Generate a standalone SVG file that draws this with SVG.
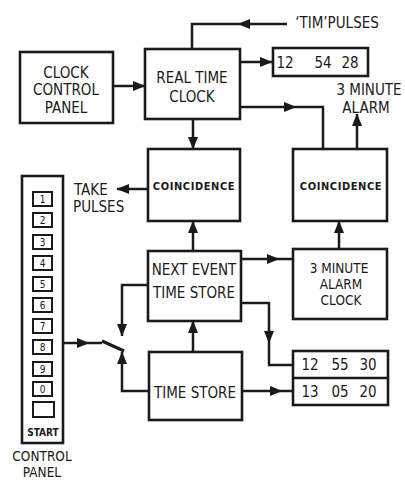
<svg xmlns="http://www.w3.org/2000/svg" width="405" height="481" viewBox="0 0 405 481">
<defs>
<marker id="ah" markerUnits="userSpaceOnUse" markerWidth="13" markerHeight="11" refX="12" refY="5.5" orient="auto" viewBox="0 0 13 11">
<path d="M0,0.5 L12.5,5.5 L0,10.5 z" fill="#1a1a1a"/>
</marker>
</defs>
<style>
.box{fill:#fff;stroke:#1a1a1a;stroke-width:2.6}
.btn{fill:#fff;stroke:#1a1a1a;stroke-width:2}
.ln{fill:none;stroke:#1a1a1a;stroke-width:2.5}
.t{font-family:"DejaVu Sans Condensed","DejaVu Sans",sans-serif;font-stretch:condensed;font-size:15px;fill:#1a1a1a;text-anchor:middle}
.m{font-size:13.5px}
.s{font-family:"DejaVu Sans Condensed","DejaVu Sans",sans-serif;font-stretch:condensed;font-size:11px;font-weight:bold;letter-spacing:0.6px;fill:#1a1a1a;text-anchor:middle}
.n{font-family:"DejaVu Sans Condensed","DejaVu Sans",sans-serif;font-stretch:condensed;font-size:10px;fill:#1a1a1a;text-anchor:middle}
</style>
<rect width="405" height="481" fill="#fff"/>
<g id="connectors">
<path class="ln" d="M113,86 L145,86" marker-end="url(#ah)"/>
<path class="ln" d="M287,24 L238,24" marker-end="url(#ah)"/>
<path class="ln" d="M238,24 L192,24 L192,49"/>
<path class="ln" d="M240,62 L272,62" marker-end="url(#ah)"/>
<path class="ln" d="M240,107 L296,107" marker-end="url(#ah)"/>
<path class="ln" d="M296,107 L323,107 L323,149"/>
<path class="ln" d="M357,149 L357,114" marker-end="url(#ah)"/>
<path class="ln" d="M193,119 L193,149" marker-end="url(#ah)"/>
<path class="ln" d="M148,189 L117,189" marker-end="url(#ah)"/>
<path class="ln" d="M193,251 L193,221" marker-end="url(#ah)"/>
<path class="ln" d="M240,259 L279,259" marker-end="url(#ah)"/>
<path class="ln" d="M279,259 L293,259"/>
<path class="ln" d="M339,249 L339,221" marker-end="url(#ah)"/>
<path class="ln" d="M148,285 L122,285 L122,336" marker-end="url(#ah)"/>
<path class="ln" d="M241,303 L269,303 L269,343" marker-end="url(#ah)"/>
<path class="ln" d="M269,343 L269,365 L293,365"/>
<path class="ln" d="M193,352 L193,321" marker-end="url(#ah)"/>
<path class="ln" d="M242,391 L282,391" marker-end="url(#ah)"/>
<path class="ln" d="M282,391 L293,391"/>
<path class="ln" d="M149,391 L122,391 L122,352" marker-end="url(#ah)"/>
<path class="ln" d="M63,343 L89,343" marker-end="url(#ah)"/>
<path class="ln" d="M89,343 L102,343"/>
<path class="ln" d="M102,341 L124,351" style="stroke-width:3.2"/>
</g>
<g id="clock-control-panel">
<rect class="box" x="20" y="52" width="93" height="71"/>
<text class="t" x="66" y="78">CLOCK</text>
<text class="t" x="66" y="95">CONTROL</text>
<text class="t" x="66" y="113">PANEL</text>
</g>
<g id="real-time-clock">
<rect class="box" x="145" y="49" width="95" height="70"/>
<text class="t" x="192" y="83">REAL TIME</text>
<text class="t" x="192" y="102">CLOCK</text>
</g>
<g id="tim-pulses">
<text class="t" x="337" y="28">‘TIM’PULSES</text>
</g>
<g id="display-1">
<rect class="box" x="273" y="48" width="95" height="28"/>
<text class="t" x="285" y="68">12</text>
<text class="t" x="323" y="68">54</text>
<text class="t" x="350" y="68">28</text>
</g>
<g id="alarm-output">
<text class="t" x="369" y="95">3 MINUTE</text>
<text class="t" x="366" y="113">ALARM</text>
</g>
<g id="coincidence-1">
<rect class="box" x="148" y="149" width="92" height="72"/>
<text class="s" x="194" y="190">COINCIDENCE</text>
</g>
<g id="take-pulses">
<text class="t" x="74" y="195" style="text-anchor:start">TAKE</text>
<text class="t" x="73" y="212" style="text-anchor:start">PULSES</text>
</g>
<g id="coincidence-2">
<rect class="box" x="293" y="149" width="94" height="72"/>
<text class="s" x="341" y="190">COINCIDENCE</text>
</g>
<g id="next-event-time-store">
<rect class="box" x="148" y="251" width="93" height="70"/>
<text class="t" x="194" y="275">NEXT EVENT</text>
<text class="t" x="194" y="298">TIME STORE</text>
</g>
<g id="three-minute-alarm-clock">
<rect class="box" x="293" y="249" width="94" height="70"/>
<text class="t m" x="339" y="273">3 MINUTE</text>
<text class="t m" x="341" y="289">ALARM</text>
<text class="t m" x="341" y="305">CLOCK</text>
</g>
<g id="time-store">
<rect class="box" x="149" y="352" width="93" height="68"/>
<text class="t" x="195" y="398">TIME STORE</text>
</g>
<g id="display-2">
<rect class="box" x="293" y="351" width="95" height="54"/>
<line class="ln" x1="293" y1="378" x2="388" y2="378"/>
<text class="t" x="310" y="370">12</text>
<text class="t" x="340" y="370">55</text>
<text class="t" x="368" y="370">30</text>
<text class="t" x="310" y="397">13</text>
<text class="t" x="340" y="397">05</text>
<text class="t" x="368" y="397">20</text>
</g>
<g id="control-panel">
<rect class="box" x="22" y="176" width="41" height="267"/>
<rect class="btn" x="33" y="192" width="19" height="14"/><text class="n" x="42.5" y="203">1</text>
<rect class="btn" x="33" y="213" width="19" height="14"/><text class="n" x="42.5" y="224">2</text>
<rect class="btn" x="33" y="235" width="19" height="14"/><text class="n" x="42.5" y="246">3</text>
<rect class="btn" x="33" y="256" width="19" height="14"/><text class="n" x="42.5" y="267">4</text>
<rect class="btn" x="33" y="277" width="19" height="14"/><text class="n" x="42.5" y="288">5</text>
<rect class="btn" x="33" y="298" width="19" height="14"/><text class="n" x="42.5" y="309">6</text>
<rect class="btn" x="33" y="319" width="19" height="14"/><text class="n" x="42.5" y="330">7</text>
<rect class="btn" x="33" y="340" width="19" height="14"/><text class="n" x="42.5" y="351">8</text>
<rect class="btn" x="33" y="362" width="19" height="14"/><text class="n" x="42.5" y="373">9</text>
<rect class="btn" x="33" y="382" width="19" height="14"/><text class="n" x="42.5" y="393">0</text>
<rect class="btn" x="33" y="402" width="21" height="15"/>
<text class="s" x="43" y="436" style="font-size:10px;letter-spacing:0">START</text>
<text class="t m" x="42" y="461">CONTROL</text>
<text class="t m" x="42" y="477">PANEL</text>
</g>
</svg>
